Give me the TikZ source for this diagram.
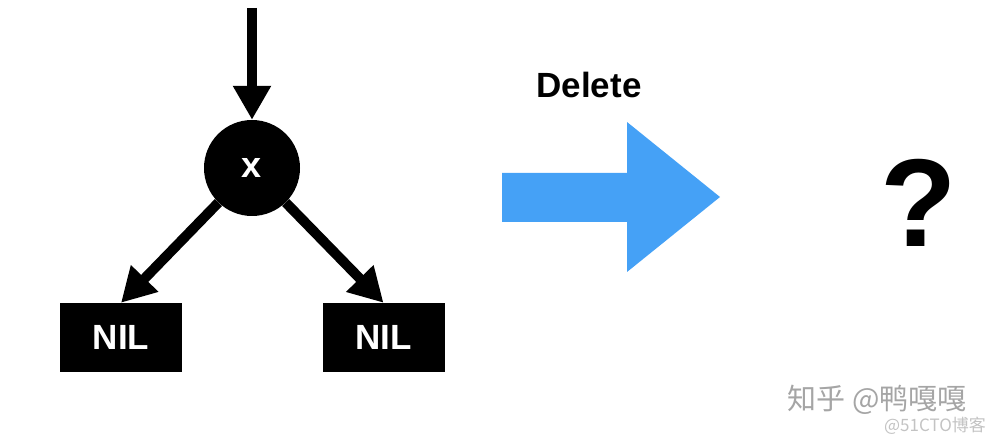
\documentclass[tikz,border=0pt]{standalone}
\usepackage{fontspec}
\setmainfont{Liberation Sans}
\newfontfamily\cjk{Noto Sans CJK SC}
\usetikzlibrary{arrows.meta}
\definecolor{frecciablu}{RGB}{69,161,246}
\definecolor{filigrana}{RGB}{165,165,165}
\definecolor{filigranachiara}{RGB}{195,195,195}
\begin{document}
\begin{tikzpicture}[x=1pt,y=1pt,
        freccia/.style={line width=10pt,-{Triangle[length=34pt,width=36pt]}},
        nil/.style={fill=black,text=white,font=\fontsize{35}{35}\selectfont\bfseries,
            minimum width=122pt,minimum height=69pt,inner sep=0pt}]
        % Riquadro della figura
        \useasboundingbox (0,0) rectangle (996,444);

        % Nodo x e foglie NIL
        \node[circle,fill=black,text=white,minimum size=96pt,inner sep=0pt,
            font=\fontsize{36}{36}\selectfont\bfseries] (x) at (252,276) {x};
        \node[nil] (nilsx) at (121,106.5) {NIL};
        \node[nil] (nildx) at (383.5,106.5) {NIL};

        % Disegna le frecce
        \coordinate (sopra) at (252,436);
        \draw[freccia] (sopra) -- (x);
        \draw[freccia] (x) -- (nilsx.north);
        \draw[freccia] (x) -- (nildx.north);

        % Freccia blu con la scritta
        \fill[frecciablu] (502,271) -- (627,271) -- (627,322) -- (720,247)
            -- (627,172) -- (627,222) -- (502,222) -- cycle;
        \node[font=\fontsize{35}{35}\selectfont\bfseries,anchor=base] (delete) at (589,346) {Delete};

        % Punto di domanda
        \node[font=\fontsize{125}{125}\selectfont\bfseries,anchor=base] (domanda) at (919,197) {?};

        % Filigrana
        \node[inner sep=0pt,font=\cjk\fontsize{29}{29}\selectfont,text=filigrana] (zhihu) at (877,44) {知乎 @鸭嘎嘎};
        \node[inner sep=0pt,font=\cjk\fontsize{17}{17}\selectfont,text=filigranachiara] (cto) at (935,18) {@51CTO博客};
    \end{tikzpicture}
\end{document}
